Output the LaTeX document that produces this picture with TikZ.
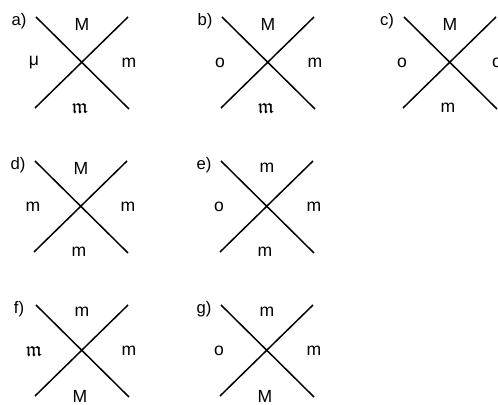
\documentclass[tikz,border=0pt]{standalone}
\usepackage{fontspec}
\setsansfont{Liberation Sans}
\usepackage{amssymb}
\usepackage{tikz}
\usetikzlibrary{positioning}
\newcommand{\frakm}{{\fontsize{12}{13}\selectfont$\mathfrak{m}$}}
\tikzset{
  crossline/.style={line width=0.85pt, color=black},
  leglabel/.style={font=\sffamily\fontsize{10}{11}\selectfont, inner sep=1pt},
  tagnode/.style={font=\sffamily\fontsize{9.5}{11}\selectfont, inner sep=1pt},
}

\begin{document}
\begin{tikzpicture}[x=0.02cm, y=-0.02cm]
  \useasboundingbox (0,0) rectangle (498,405);
  \foreach \tg/\cx/\cy/\up/\lft/\rgt/\dn in {
      a/82/63/M/μ/m/\frakm,
      b/268/63/M/o/m/\frakm,
      c/450/63/M/o/o/m,
      d/81/207/M/m/m/m,
      e/267/207/m/o/m/m,
      f/82/351/m/\frakm/m/M,
      g/267/351/m/o/m/M}
  {
    \begin{scope}[shift={(\cx,\cy)}]
      \coordinate (\tg-nw) at (-46,-46);
      \coordinate (\tg-se) at (47,46);
      \coordinate (\tg-sw) at (-47,45);
      \coordinate (\tg-ne) at (46,-46);
      \draw[crossline] (\tg-nw) -- (\tg-se);
      \draw[crossline] (\tg-sw) -- (\tg-ne);
      \node[tagnode] (\tg-tag) at (-63,-42) {\tg)};
      \node[leglabel] (\tg-up) at (0,-39) {\up};
      \node[leglabel] (\tg-lft) at (-48,0) {\lft};
      \node[leglabel] (\tg-rgt) at (47,0) {\rgt};
      \node[leglabel] (\tg-dn) at (-2,45) {\dn};
    \end{scope}
  }
\end{tikzpicture}
\end{document}
